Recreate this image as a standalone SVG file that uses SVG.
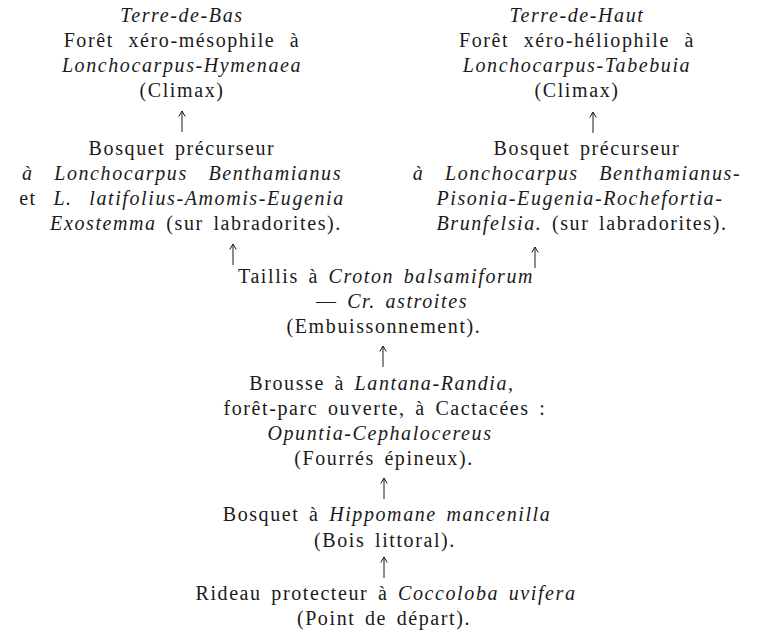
<svg xmlns="http://www.w3.org/2000/svg" width="760" height="633" viewBox="0 0 760 633">
<defs>
<marker id="ah" markerWidth="10" markerHeight="10" refX="5" refY="1" markerUnits="userSpaceOnUse" viewBox="0 0 10 10">
<path d="M1.8,6.5 L5,1 L8.2,6.5" fill="none" stroke="#1a1a1a" stroke-width="1"/>
</marker>
<style>
text{font-family:"Liberation Serif","DejaVu Serif",serif;font-size:20px;fill:#1a1a1a;text-anchor:middle;letter-spacing:1.6px;word-spacing:3px}
.i{font-style:italic}
.c line{stroke:#1a1a1a;stroke-width:1}
</style>
</defs>
<rect width="760" height="633" fill="#fff"/>
<g id="terre-de-bas">
<text x="182" y="22" class="i">Terre-de-Bas</text>
<text x="182" y="47" style="word-spacing:8px">Forêt xéro-mésophile à</text>
<text x="182" y="72" class="i">Lonchocarpus-Hymenaea</text>
<text x="182" y="97">(Climax)</text>
</g>
<g id="bosquet-bas">
<text x="182" y="155">Bosquet précurseur</text>
<text x="182" y="180" class="i" style="word-spacing:14px">à Lonchocarpus Benthamianus</text>
<text x="182" y="205" style="word-spacing:10px">et <tspan class="i">L. latifolius-Amomis-Eugenia</tspan></text>
<text x="196" y="230"><tspan class="i">Exostemma</tspan> (sur labradorites).</text>
</g>
<g id="terre-de-haut">
<text x="577" y="22" class="i">Terre-de-Haut</text>
<text x="577" y="47" style="word-spacing:8px">Forêt xéro-héliophile à</text>
<text x="577" y="72" class="i">Lonchocarpus-Tabebuia</text>
<text x="577" y="97">(Climax)</text>
</g>
<g id="bosquet-haut">
<text x="587" y="155">Bosquet précurseur</text>
<text x="577" y="180" class="i" style="word-spacing:14px">à Lonchocarpus Benthamianus-</text>
<text x="580" y="205" class="i">Pisonia-Eugenia-Rochefortia-</text>
<text x="582" y="230"><tspan class="i">Brunfelsia.</tspan> (sur labradorites).</text>
</g>
<g id="taillis">
<text x="386" y="283">Taillis à <tspan class="i">Croton balsamiforum</tspan></text>
<text x="392" y="308">— <tspan class="i">Cr. astroites</tspan></text>
<text x="384" y="333">(Embuissonnement).</text>
</g>
<g id="brousse">
<text x="382" y="390">Brousse à <tspan class="i">Lantana-Randia,</tspan></text>
<text x="385" y="415">forêt-parc ouverte, à Cactacées :</text>
<text x="380" y="440" class="i">Opuntia-Cephalocereus</text>
<text x="384" y="465">(Fourrés épineux).</text>
</g>
<g id="bosquet-hippomane">
<text x="387" y="521">Bosquet à <tspan class="i">Hippomane mancenilla</tspan></text>
<text x="385" y="547">(Bois littoral).</text>
</g>
<g id="rideau">
<text x="386" y="600">Rideau protecteur à <tspan class="i">Coccoloba uvifera</tspan></text>
<text x="384" y="625">(Point de départ).</text>
</g>
<g class="c" id="connectors">
<line x1="182" y1="132" x2="182" y2="111" marker-end="url(#ah)"/>
<line x1="593" y1="133" x2="593" y2="112" marker-end="url(#ah)"/>
<line x1="233" y1="265" x2="233" y2="244" marker-end="url(#ah)"/>
<line x1="535" y1="268" x2="535" y2="247" marker-end="url(#ah)"/>
<line x1="383" y1="367" x2="383" y2="346" marker-end="url(#ah)"/>
<line x1="384" y1="499" x2="384" y2="478" marker-end="url(#ah)"/>
<line x1="384" y1="578" x2="384" y2="557" marker-end="url(#ah)"/>
</g>
</svg>
